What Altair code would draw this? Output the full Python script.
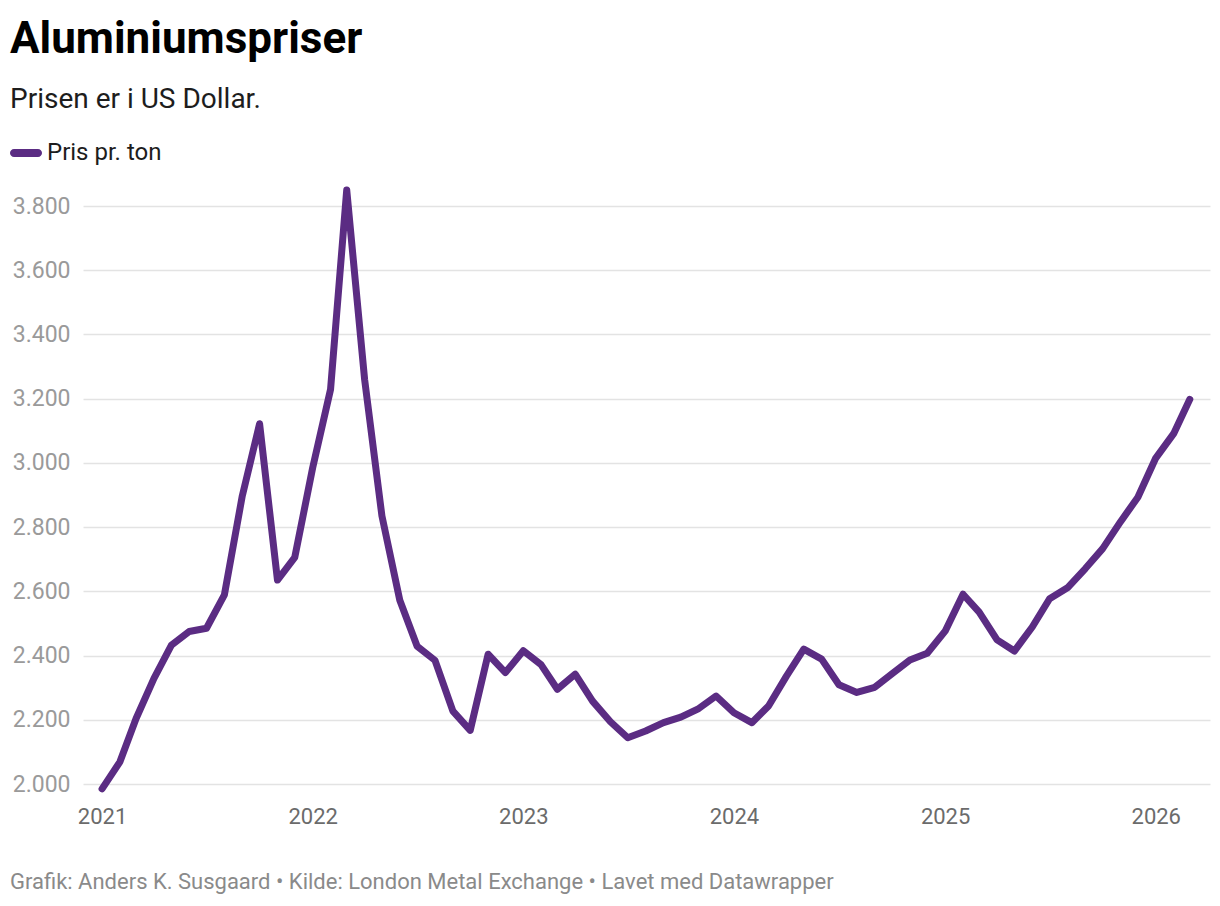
import altair as alt
import pandas as pd
from datetime import datetime, timezone

# ---- data ----
start_year, start_month = 2021, 1
prices = [
    1985, 2069, 2204, 2329, 2432, 2475, 2485, 2589, 2897, 3122, 2635, 2706,
    2985, 3229, 3850, 3260, 2835, 2572, 2429, 2385, 2227, 2167, 2404, 2347,
    2415, 2371, 2295, 2342, 2258, 2194, 2144, 2165, 2191, 2208, 2235, 2274,
    2222, 2191, 2243, 2336, 2420, 2389, 2309, 2285, 2301, 2343, 2386, 2407,
    2476, 2591, 2535, 2449, 2414, 2489, 2577, 2611, 2671, 2733, 2817, 2893,
    3015, 3091, 3198,
]
series_name = "Pris pr. ton"
year_ticks = [2021, 2022, 2023, 2024, 2025, 2026]
y_ticks = [2000, 2200, 2400, 2600, 2800, 3000, 3200, 3400, 3600, 3800]

title_text = "Aluminiumspriser"
subtitle_text = "Prisen er i US Dollar."
footer_text = "Grafik: Anders K. Susgaard • Kilde: London Metal Exchange • Lavet med Datawrapper"

dates = []
for i in range(len(prices)):
    m = start_month - 1 + i
    dates.append(f"{start_year + m // 12:04d}-{m % 12 + 1:02d}-01")

df = pd.DataFrame({"date": dates, "price": prices, "serie": series_name})


def ms(y, m, d):
    return int(datetime(y, m, d, tzinfo=timezone.utc).timestamp() * 1000)


x_domain = [ms(2020, 11, 29), ms(2026, 4, 5)]
x_values = [ms(y, 1, 1) for y in year_ticks]

FONT = "Roboto"
PURPLE = "#5b2c83"

W, H = 1127, 578
LEFT, TOP = 75, 198

line = alt.Chart(df).mark_line(
    strokeWidth=7, strokeCap="round", strokeJoin="round"
).encode(
    x=alt.X(
        "date:T",
        scale=alt.Scale(type="utc", domain=x_domain, nice=False),
        axis=alt.Axis(
            title=None, values=x_values, labelExpr="utcFormat(datum.value, '%Y')",
            grid=False, ticks=False, domain=False, labelFont=FONT, labelFontSize=22,
            labelColor="#6b6b6b", labelPadding=22, labelAlign="center",
            labelBaseline="top", labelFlush=False,
        ),
    ),
    y=alt.Y(
        "price:Q",
        scale=alt.Scale(domain=[2000, 3800], nice=False, zero=False),
        axis=alt.Axis(
            title=None, values=y_ticks,
            labelExpr="replace(format(datum.value, ','), ',', '.')",
            grid=True, gridColor="#e3e3e3", gridWidth=1.3, ticks=False, domain=False,
            labelFont=FONT, labelFontSize=23, labelColor="#9a9a9a", labelPadding=13,
            labelBaseline="middle",
        ),
    ),
    color=alt.Color(
        "serie:N",
        scale=alt.Scale(domain=[series_name], range=[PURPLE]),
        legend=alt.Legend(
            title=None, orient="none", legendX=-73, legendY=-69,
            labelFont=FONT, labelFontSize=24, labelColor="#1d1d1d",
            symbolType="M-0.75,-0.25 L0.75,-0.25 A0.25,0.25 0 0 1 0.75,0.25 L-0.75,0.25 A0.25,0.25 0 0 1 -0.75,-0.25 Z",
            symbolSize=1024, symbolFillColor=PURPLE, symbolStrokeColor=PURPLE,
            symbolStrokeWidth=0, labelOffset=5,
        ),
    ),
)

footer = alt.Chart(pd.DataFrame({"t": [footer_text]})).mark_text(
    align="left", baseline="middle", font=FONT, fontSize=22, color="#8a8a8a"
).encode(x=alt.value(-73), y=alt.value(676), text="t:N")

chart = alt.layer(line, footer).properties(
    width=W, height=H,
    title=alt.TitleParams(
        text=title_text, subtitle=subtitle_text, anchor="start", frame="group",
        dx=-73, offset=23, font=FONT, fontSize=44, fontWeight="bold", color="#000000",
        subtitleFont=FONT, subtitleFontSize=28, subtitleColor="#1d1d1d",
        subtitlePadding=24,
    ),
    autosize=alt.AutoSizeParams(type="none"),
    padding={"left": LEFT, "top": TOP, "right": 2, "bottom": 110},
).configure(background="white").configure_view(stroke=None)

chart.save("out.html", embed_options={"renderer": "svg", "actions": False})
